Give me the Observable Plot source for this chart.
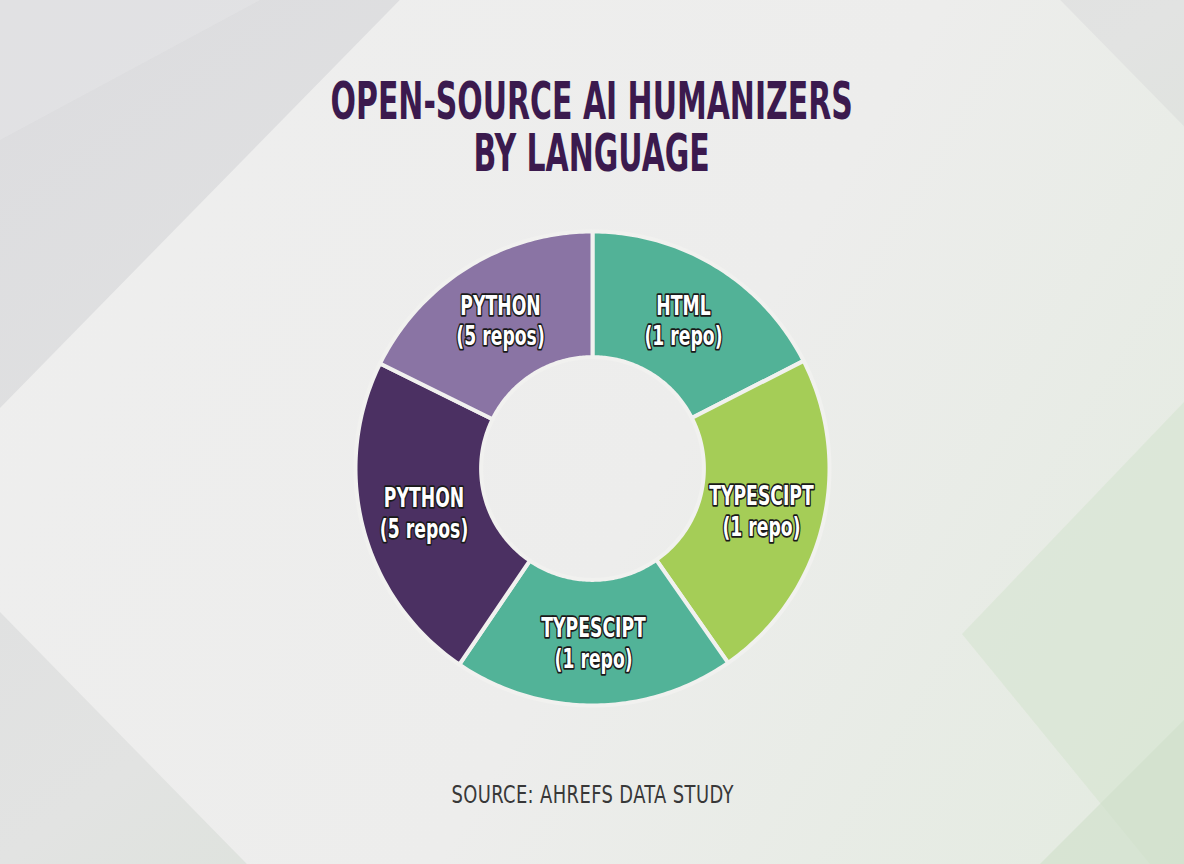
<!DOCTYPE html>
<html>
<head>
<meta charset="utf-8">
<script src="https://cdn.jsdelivr.net/npm/d3@7"></script>
<script src="https://cdn.jsdelivr.net/npm/@observablehq/plot@0.6"></script>
<style>
  html, body { margin: 0; padding: 0; }
  body { width: 1184px; height: 864px; overflow: hidden; position: relative; background: #dfdfe1; }
  #bg { position: absolute; left: 0; top: 0; }
  .title {
    position: absolute; left: 0; width: 1184px; text-align: center; white-space: nowrap;
    font-family: "DejaVu Sans Condensed", "DejaVu Sans", sans-serif;
    font-weight: bold; font-size: 51px; line-height: 52px; height: 52px; color: #3b1a4e;
    transform: scaleX(0.652); transform-origin: 591px 0;
  }
  #source {
    position: absolute; left: 0; top: 780px; width: 1184px; text-align: center;
    font-family: "DejaVu Sans Condensed", "DejaVu Sans", sans-serif;
    font-size: 25px; color: #383838; letter-spacing: 0.5px;
    transform: scaleX(0.796); transform-origin: 595px 0;
  }
  #chart { position: absolute; left: 0; top: 198px; }
</style>
</head>
<body>
<svg id="bg" width="1184" height="864" viewBox="0 0 1184 864">
  <defs>
    <linearGradient id="gBase" x1="0" y1="0" x2="1" y2="1">
      <stop offset="0" stop-color="#dcdcdf"/>
      <stop offset="0.5" stop-color="#e2e3e2"/>
      <stop offset="1" stop-color="#d3e2cf"/>
    </linearGradient>
    <linearGradient id="gDiamond" x1="0" y1="0" x2="1" y2="0.6">
      <stop offset="0" stop-color="#efefef"/>
      <stop offset="0.55" stop-color="#ededec"/>
      <stop offset="0.85" stop-color="#e4ebe1"/>
      <stop offset="1" stop-color="#dbe7d7"/>
    </linearGradient>
  </defs>
  <rect width="1184" height="864" fill="url(#gBase)"/>
  <polygon points="0,140 260,0 0,0" fill="#e4e4e6" opacity="0.6"/>
  <polygon points="-100,510 730,-337 1560,510 730,1357" fill="url(#gDiamond)"/>
  <polygon points="962,634 1184,402 1184,864 1150,864" fill="#d6e4d1" opacity="0.6"/>
  <polygon points="1040,864 1184,720 1184,864" fill="#cfdfca" opacity="0.6"/>
</svg>
<div class="title" style="top:75.6px">OPEN-SOURCE AI HUMANIZERS</div>
<div class="title" style="top:127.6px">BY LANGUAGE</div>
<div id="chart"></div>
<div id="source">SOURCE: AHREFS DATA STUDY</div>
<script>
// Data (clockwise from 12 o'clock), shares read as angular proportions (%)
const languages = ["HTML", "TYPESCIPT", "TYPESCIPT", "PYTHON", "PYTHON"];
const repoLabels = ["(1 repo)", "(1 repo)", "(1 repo)", "(5 repos)", "(5 repos)"];
const shares = [17.5, 22.8, 19.2, 22.8, 17.7];
const colors = ["#52b297", "#a5cd57", "#52b398", "#4b3062", "#8a74a4"];

const innerR = 0.47, outerR = 1;
const arcs = d3.pie().sort(null).value(d => d)(shares);

const polys = arcs.map((a, i) => {
  const n = 80, pts = [];
  for (let k = 0; k <= n; k++) {
    const t = a.startAngle + (a.endAngle - a.startAngle) * k / n;
    pts.push({x: outerR * Math.sin(t), y: outerR * Math.cos(t)});
  }
  for (let k = n; k >= 0; k--) {
    const t = a.startAngle + (a.endAngle - a.startAngle) * k / n;
    pts.push({x: innerR * Math.sin(t), y: innerR * Math.cos(t)});
  }
  return {pts, color: colors[i]};
});

const labels = arcs.map((a, i) => {
  const m = (a.startAngle + a.endAngle) / 2, r = (innerR + outerR) / 2;
  return {x: r * Math.sin(m), y: r * Math.cos(m), text: languages[i] + "\n" + repoLabels[i]};
});

const W = 1184, H = 540, R = 237;
const plot = Plot.plot({
  width: W, height: H,
  marginLeft: 592 - R, marginRight: W - 592 - R,
  marginTop: H / 2 - R, marginBottom: H / 2 - R,
  x: {domain: [-1, 1], axis: null},
  y: {domain: [-1, 1], axis: null},
  style: {background: "transparent", overflow: "visible"},
  marks: [
    ...polys.map(p => Plot.line(p.pts, {x: "x", y: "y", fill: p.color, stroke: "#f1f1ef", strokeWidth: 4, curve: "linear-closed"})),
    Plot.text(labels, {
      x: "x", y: "y", text: "text",
      fill: "white", stroke: "#1a1a1a", strokeWidth: 3.5, paintOrder: "stroke",
      fontSize: 27, fontWeight: "bold", lineHeight: 1.12,
      fontFamily: "'DejaVu Sans Condensed', 'DejaVu Sans', sans-serif"
    })
  ]
});
d3.select(plot).selectAll("text").each(function() {
  const t = this.getAttribute("transform") || "";
  this.setAttribute("transform", t + " scale(0.71,1)");
});
document.getElementById("chart").appendChild(plot);
</script>
</body>
</html>
